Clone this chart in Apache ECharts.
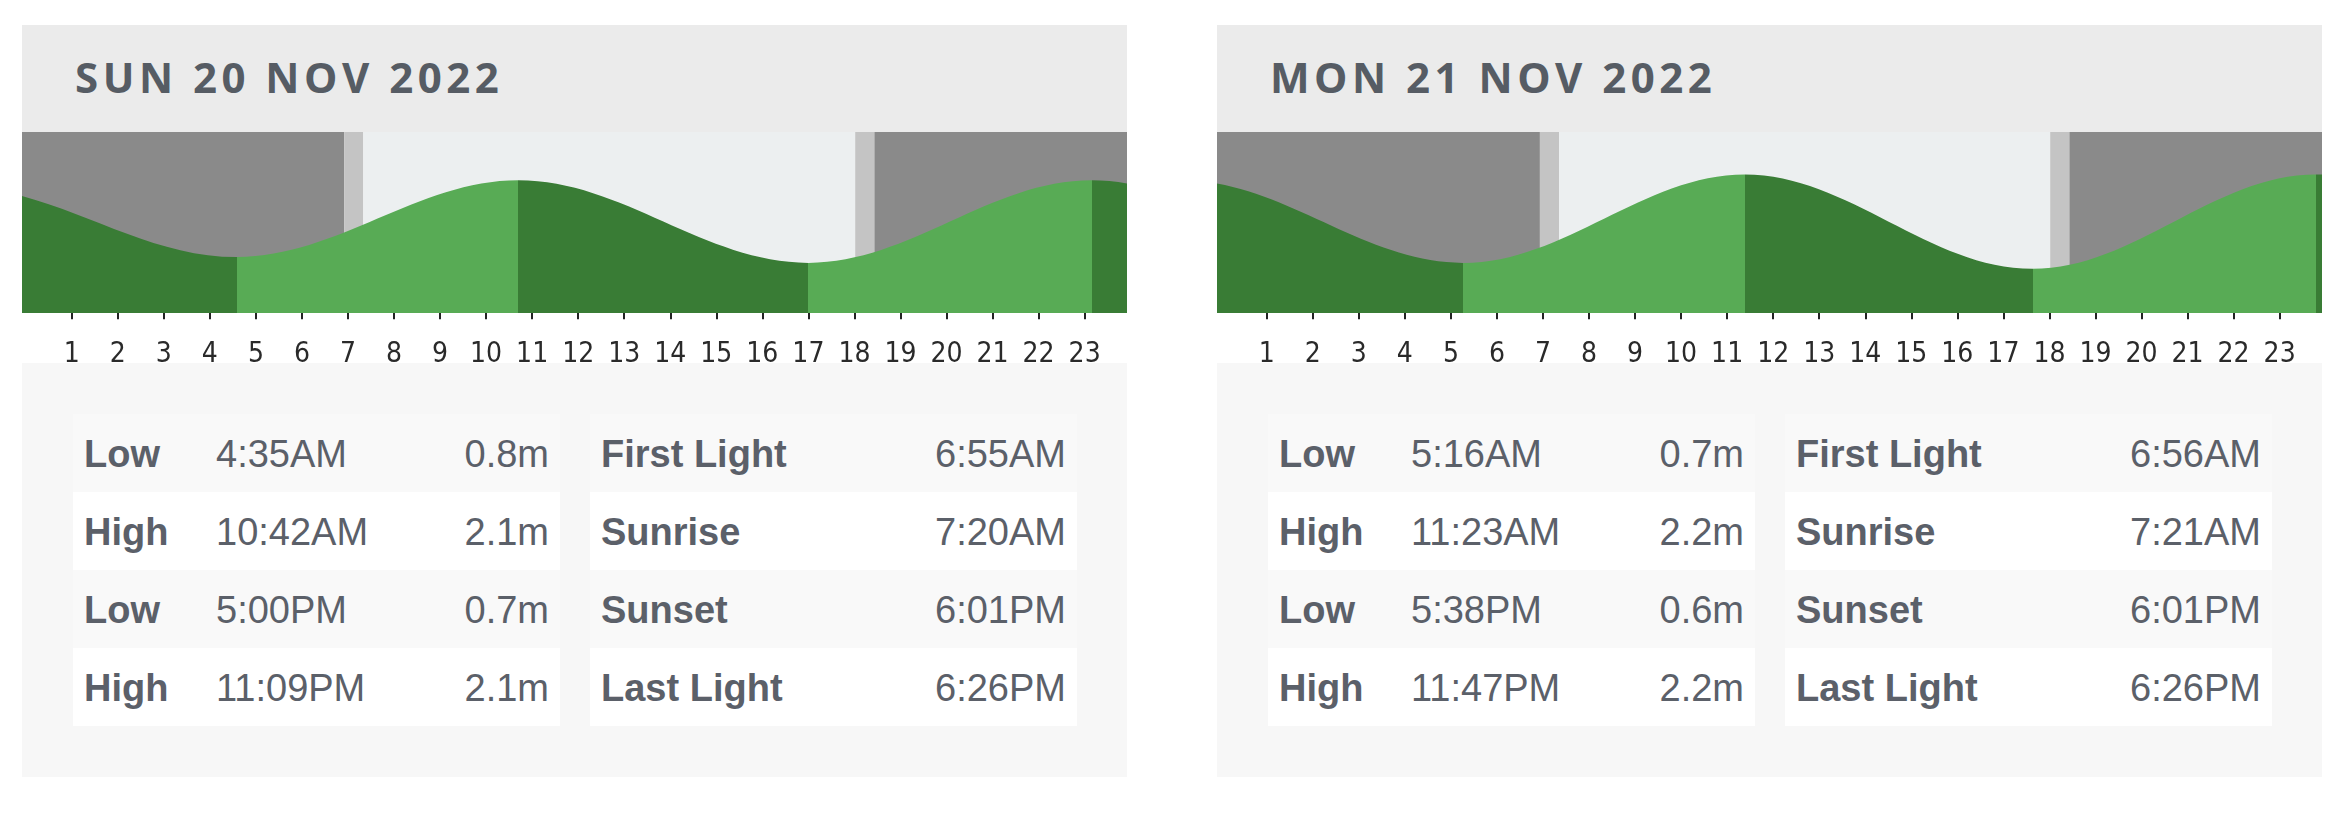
<!DOCTYPE html>
<html>
<head>
<meta charset="utf-8">
<title>Tide times</title>
<script src="https://cdn.jsdelivr.net/npm/echarts@6/dist/echarts.min.js"></script>
<style>
  body { margin: 0; width: 2346px; height: 816px; background: #fff; position: relative; overflow: hidden;
         font-family: "Liberation Sans", Arial, sans-serif; color: #5b6069; }
  .day { position: absolute; top: 25px; width: 1105px; height: 752px; }
  .head { position: absolute; left: 0; top: 0; width: 1105px; height: 107px; background: #ebebeb; }
  .head h2 { margin: 0; position: absolute; left: 53px; top: 31px; font: 700 42px/42px "Open Sans", sans-serif;
             letter-spacing: 4.5px; color: #565c64; white-space: nowrap; }
  .chart { position: absolute; left: 0; top: 107px; width: 1105px; height: 231px; }
  .info { position: absolute; left: 0; top: 338px; width: 1105px; height: 414px; background: #f7f7f7; }
  .tbl { position: absolute; top: 51px; width: 487px; height: 312px; }
  .row { position: absolute; left: 0; width: 487px; height: 78px; line-height: 80px; font-size: 38px; white-space: nowrap; }
  .row:nth-child(odd) { background: #f9f9f9; }
  .row:nth-child(even) { background: #fff; }
  .row span { position: absolute; top: 0; }
  .k { left: 11px; font-weight: 700; }
  .t { left: 143px; }
  .v { right: 11px; }
</style>
</head>
<body>
<div class="day" id="day0" style="left:22px">
  <div class="head"><h2></h2></div>
  <div class="chart"></div>
  <div class="info"><div class="tbl tide" style="left:51px"></div><div class="tbl sun" style="left:568px"></div></div>
</div>
<div class="day" id="day1" style="left:1217px">
  <div class="head"><h2></h2></div>
  <div class="chart"></div>
  <div class="info"><div class="tbl tide" style="left:51px"></div><div class="tbl sun" style="left:568px"></div></div>
</div>
<script>
// hour ticks shown under each chart
var hourTicks = [1, 2, 3, 4, 5, 6, 7, 8, 9, 10, 11, 12, 13, 14, 15, 16, 17, 18, 19, 20, 21, 22, 23];
var lightNames = ['First Light', 'Sunrise', 'Sunset', 'Last Light'];

// Sun 20 Nov 2022
var sunTitle = 'SUN 20 NOV 2022';
var sunTideTypes = ['Low', 'High', 'Low', 'High'];
var sunTideTimes = ['4:35AM', '10:42AM', '5:00PM', '11:09PM'];
var sunTideHeights = [0.8, 2.1, 0.7, 2.1];
var sunLightTimes = ['6:55AM', '7:20AM', '6:01PM', '6:26PM'];
// turning points just outside the day, estimated from the curve at the chart edges (hours, metres)
var sunBeforeHours = [-8.0, -1.55];
var sunBeforeLevels = [0.8, 2.0];
var sunAfterHours = [29.27, 35.38];
var sunAfterLevels = [0.7, 2.2];

// Mon 21 Nov 2022
var monTitle = 'MON 21 NOV 2022';
var monTideTypes = ['Low', 'High', 'Low', 'High'];
var monTideTimes = ['5:16AM', '11:23AM', '5:38PM', '11:47PM'];
var monTideHeights = [0.7, 2.2, 0.6, 2.2];
var monLightTimes = ['6:56AM', '7:21AM', '6:01PM', '6:26PM'];
var monBeforeHours = [-7.0, -0.85];
var monBeforeLevels = [0.7, 2.1];
var monAfterHours = [30.1, 36.3];
var monAfterLevels = [0.6, 2.2];

var NIGHT = '#8a8a8a', TWILIGHT = '#c4c4c4', DAYLIGHT = '#eceff0';
var FALLING = '#397c35', RISING = '#58ab55';
// the drawn day window sits slightly right of the panel edge
var X_MIN = -0.08, X_MAX = 23.92;

function toHours(s) {
  var m = s.match(/(\d+):(\d+)(AM|PM)/);
  var h = (+m[1]) % 12;
  if (m[3] === 'PM') h += 12;
  return h + (+m[2]) / 60;
}

function fillTables(el, types, times, heights, lights) {
  var tide = el.querySelector('.tide'), sun = el.querySelector('.sun');
  var a = '', b = '';
  for (var i = 0; i < 4; i++) {
    a += '<div class="row" style="top:' + (i * 78) + 'px"><span class="k">' + types[i] + '</span><span class="t">' +
      times[i] + '</span><span class="v">' + heights[i].toFixed(1) + 'm</span></div>';
    b += '<div class="row" style="top:' + (i * 78) + 'px"><span class="k">' + lightNames[i] + '</span><span class="v">' +
      lights[i] + '</span></div>';
  }
  tide.innerHTML = a;
  sun.innerHTML = b;
}

function drawDay(id, title, types, times, heights, lights, bH, bL, aH, aL) {
  var el = document.getElementById(id);
  el.querySelector('h2').textContent = title;
  fillTables(el, types, times, heights, lights);

  var xs = bH.concat(times.map(toHours), aH);
  var ys = bL.concat(heights, aL);
  var data = xs.map(function (x, i) { return [x, ys[i]]; });

  var pieces = [];
  for (var i = 0; i < xs.length - 1; i++) {
    pieces.push({ gte: xs[i], lt: xs[i + 1], color: ys[i + 1] > ys[i] ? RISING : FALLING });
  }

  var l = lights.map(toHours);
  var bands = [
    [{ xAxis: X_MIN, itemStyle: { color: NIGHT } }, { xAxis: l[0] }],
    [{ xAxis: l[0], itemStyle: { color: TWILIGHT } }, { xAxis: l[1] }],
    [{ xAxis: l[1], itemStyle: { color: DAYLIGHT } }, { xAxis: l[2] }],
    [{ xAxis: l[2], itemStyle: { color: TWILIGHT } }, { xAxis: l[3] }],
    [{ xAxis: l[3], itemStyle: { color: NIGHT } }, { xAxis: X_MAX }]
  ];

  var chart = echarts.init(el.querySelector('.chart'));
  chart.setOption({
    animation: false,
    grid: { left: 0, right: 0, top: 0, bottom: 50, outerBoundsMode: 'none', containLabel: false },
    xAxis: {
      type: 'value', min: X_MIN, max: X_MAX,
      axisLine: { show: false },
      splitLine: { show: false },
      axisTick: { customValues: hourTicks, length: 15, lineStyle: { color: '#222', width: 2 } },
      axisLabel: {
        customValues: hourTicks, margin: 28, fontSize: 28, color: '#2a2a2a',
        fontFamily: '"Liberation Sans Narrow", "DejaVu Sans Condensed", "Liberation Sans", sans-serif'
      }
    },
    yAxis: { type: 'value', show: false, min: -0.15, max: 2.92 },
    visualMap: { show: false, type: 'piecewise', dimension: 0, seriesIndex: 0, pieces: pieces, outOfRange: { color: FALLING } },
    series: [{
      type: 'line',
      data: data,
      smooth: 0.36,
      showSymbol: false,
      z: 3,
      lineStyle: { width: 0 },
      areaStyle: { origin: 'start', opacity: 1 },
      markArea: { silent: true, z: 1, data: bands }
    }]
  });
}

drawDay('day0', sunTitle, sunTideTypes, sunTideTimes, sunTideHeights, sunLightTimes,
  sunBeforeHours, sunBeforeLevels, sunAfterHours, sunAfterLevels);
drawDay('day1', monTitle, monTideTypes, monTideTimes, monTideHeights, monLightTimes,
  monBeforeHours, monBeforeLevels, monAfterHours, monAfterLevels);
</script>
</body>
</html>
